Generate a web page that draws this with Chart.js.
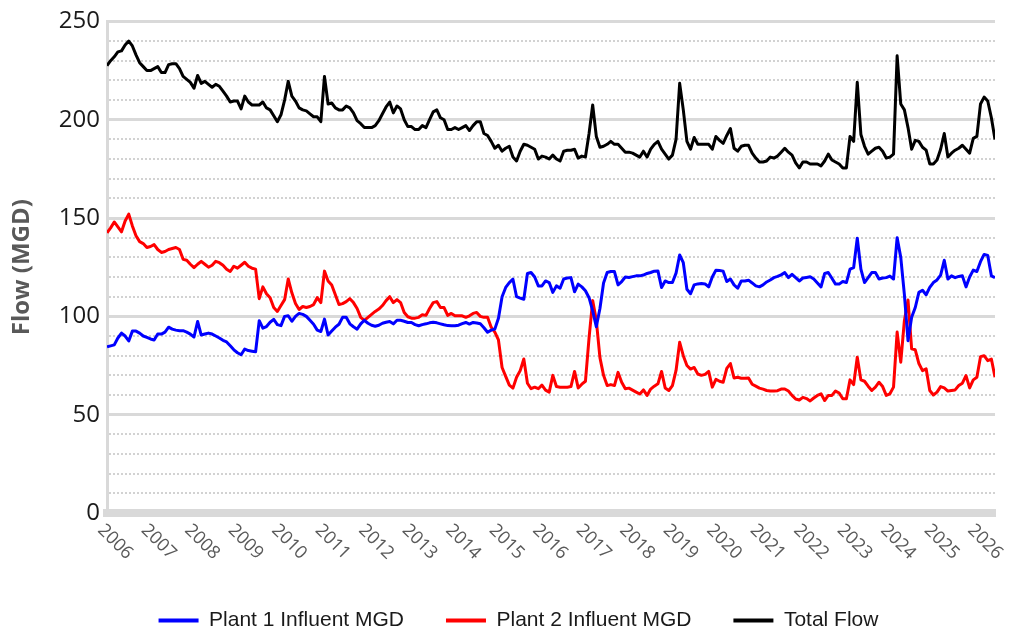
<!DOCTYPE html>
<html>
<head>
<meta charset="utf-8">
<script src="https://cdn.jsdelivr.net/npm/chart.js@4.4.0/dist/chart.umd.min.js"></script>
<style>
  html, body { margin: 0; padding: 0; background: #fff; }
  #wrap { width: 1013px; height: 635px; position: relative; }
</style>
</head>
<body>
<div id="wrap"><canvas id="flowChart"></canvas></div>
<script>
// monthly values, Jan 2006 onward (one row per year)
const startYear = 2006;
const yearTicks = [2006, 2007, 2008, 2009, 2010, 2011, 2012, 2013, 2014, 2015, 2016,
  2017, 2018, 2019, 2020, 2021, 2022, 2023, 2024, 2025, 2026];

const plant1 = [
  84.5, 85, 85.5, 89, 91.5, 90, 87.5, 92.5, 92.5, 91.5, 90, 89.3,
  88.5, 88, 91, 91, 92, 94.5, 93.5, 93, 92.7, 92.7, 92, 91,
  89.5, 97.4, 90.5, 91, 91.5, 91, 90, 89, 87.8, 87, 85, 83,
  81.5, 80.5, 83.4, 82.6, 82.3, 82, 97.8, 94, 94.8, 97, 98.5, 95.8,
  95.3, 100, 100.3, 97.5, 100, 101.5, 101, 100, 98, 96, 93, 92.3,
  98.6, 90.5, 92.5, 94.5, 96, 99.5, 99.5, 96.2, 94.7, 93.5, 96.2, 98,
  96.5, 95.5, 95, 95.5, 96.5, 97, 97.4, 96.2, 98, 98, 97.5, 96.9,
  96.9, 95.8, 95.2, 95.8, 96.2, 96.7, 97, 96.7, 96.2, 95.7, 95.3, 95.2,
  95.2, 95.5, 96.3, 96.9, 96.1, 96.9, 96.6, 96.2, 94.2, 91.9, 93, 93.5,
  99, 110, 114.7, 117.2, 118.9, 110, 109.3, 108.7, 121.8, 122.3, 120, 115.5,
  115.5, 118, 117.2, 112.2, 115.5, 114.3, 119, 119.5, 119.7, 112.5, 116.4, 115,
  113, 109.5, 102.8, 94.7, 104, 117, 122.3, 122.8, 122.8, 116, 117.7, 120,
  119.8, 120.2, 120.6, 120.6, 121, 121.8, 122.3, 123, 123.1, 114.7, 118, 117.2,
  117.2, 122, 131.2, 127.3, 113.8, 111.5, 116, 116.5, 116.7, 116.5, 115, 120,
  123.5, 123.3, 123, 117.7, 119, 116, 114.3, 118, 118, 118.4, 117, 115.5,
  115, 116, 117.5, 118.5, 119.7, 120.3, 121.1, 122.3, 119.7, 121.4, 119.7, 118,
  119.5, 119.8, 120.1, 119, 117, 115, 121.8, 122.3, 119.4, 116.4, 116.4, 117.7,
  117.2, 124, 124.8, 139.7, 124, 117.2, 119.7, 122.3, 122.3, 119, 119.5, 119.7,
  120.5, 119, 140, 130, 111, 87.6, 99.5, 104.5, 112.2, 113.3, 111, 114.7,
  117.2, 118.5, 121, 128.5, 119, 120.6, 119.7, 120.3, 120.6, 115, 120, 123.5,
  122.8, 127.8, 131.5, 131, 120.6, 119.7
];

const plant2 = [
  142.5, 145, 148, 145.5, 143, 148.5, 152, 146, 141, 138, 137, 135,
  135.5, 136.5, 134, 132.5, 133, 134, 134.5, 135, 134, 129, 128.5, 126.5,
  124.8, 126.5, 128, 126.5, 125, 126, 128, 127.3, 126, 124, 122.8, 125.5,
  124.5, 126, 127.5, 125.5, 124.5, 124, 109, 115, 111.5, 109.5, 104.5, 102.5,
  105.5, 108.5, 119, 112, 106.5, 103.5, 105, 104.5, 105, 106, 109.5, 107,
  123, 118, 116, 111, 106, 106.5, 107.5, 109, 107, 104, 99.5, 98,
  99.5, 101, 102.5, 103.7, 105.5, 108, 110, 107, 108.5, 107, 102, 99.8,
  99.1, 99.1, 99.5, 100.8, 100.5, 104, 107, 107.5, 104.5, 104.5, 100.5, 101.5,
  100.3, 100.3, 100.3, 99.5, 100.3, 101.5, 102, 100, 99.5, 99.5, 94.5, 92,
  88, 74, 69.5, 65, 63.5, 69, 72.4, 78.3, 66, 63.2, 64, 63.2,
  65, 62.5, 61.5, 70, 64.3, 64, 64, 64, 64.3, 72, 63.6, 65.5,
  67, 89, 108, 98, 79, 70, 64.8, 65.3, 64.8, 71.5, 66.5, 63.2,
  63.5, 62.5, 61.5, 60.5, 62.6, 59.8, 63, 64.5, 65.7, 72, 63.6, 62.3,
  64.8, 72.5, 86.8, 80, 75, 73.2, 74, 70.7, 70, 70.5, 72, 64,
  68, 67, 66.5, 73.5, 76, 68.7, 69, 68.5, 68.5, 68.7, 65.5, 64.5,
  63.5, 63, 62.3, 62, 62, 62.2, 63, 63.1, 62, 59.8, 58, 57.5,
  58.8, 58.2, 57, 58.5, 59.8, 60.6, 57.2, 59.8, 59.8, 62, 61, 58.1,
  58.1, 67.7, 65.3, 79.2, 67.7, 67, 64.5, 62.3, 64, 66.5, 64.3, 59.8,
  60.6, 64, 92, 76.7, 97.8, 108.3, 83.5, 83, 76, 72.4, 73.3, 62.3,
  60, 61.5, 64.3, 63.6, 62, 62.3, 62.6, 64.8, 66, 69.9, 63.6, 67.7,
  69, 79.5, 80, 77.5, 78.3, 69
];

const totalFlow = [
  227.5, 230, 232, 234.5, 235, 238, 240, 237.5, 233, 229, 227, 225,
  225, 226, 227, 224, 224, 228, 228.5, 228.5, 226, 222, 220.5, 219,
  216, 222.5, 218.5, 219.5, 218, 216.5, 218, 217, 214.5, 212, 209, 209.5,
  209.5, 205.5, 212, 209, 207.5, 207.5, 207.5, 209, 206, 205, 202, 199,
  202.5, 210, 219.5, 212, 209.5, 206, 205, 204.5, 203, 201.5, 201.5, 199,
  222, 208, 208.5, 206, 205, 205, 207, 206, 203.5, 199.5, 198, 196,
  196, 196, 197, 199.5, 203, 206.5, 209, 203.5, 207, 205.5, 200, 196.5,
  196.5, 195, 195, 197, 196, 200, 204, 205, 201, 200, 195, 195,
  196, 195, 196, 197, 194.5, 197, 199, 199, 193, 192, 189, 185.5,
  187, 184, 185.5, 186.5, 181, 179, 184, 187.5, 187, 186, 185, 180,
  181.5, 181, 180, 182, 180, 179, 184, 184.5, 184.5, 185, 180.5, 181.5,
  181, 193, 207.5, 191.5, 186, 186.5, 187.5, 189, 187.5, 187.5, 185.5, 183.5,
  183.5, 183, 182, 181, 184, 181, 185, 187.5, 189, 185, 182.5, 180,
  182, 190, 218.5, 205, 189, 185, 191, 187.5, 187.5, 187.5, 187.5, 185,
  191.5, 189.5, 188, 192, 195.5, 185.5, 184, 186.5, 187, 187, 183, 180.5,
  178.5, 178.5, 179, 181, 180.5, 181.5, 183.5, 185.5, 183.5, 182, 178, 175.5,
  178.5, 178.5, 177.5, 177.5, 177.5, 176.5, 179, 182.5, 179.5, 178.5, 177.5, 175.5,
  175.5, 191.5, 189, 219, 192.5, 186.5, 182.5, 184, 185.5, 186, 184, 180.5,
  181, 182.5, 232.5, 208, 205, 196, 185, 189.5, 189, 186, 184.5, 177.5,
  177.5, 179.5, 185, 193, 181, 183, 184.5, 185.5, 187, 185, 183, 190.5,
  191.5, 208, 211.5, 209.5, 201, 190
];

const monthX = totalFlow.map((v, i) => startYear + i / 12);
const toPoints = arr => arr.map((v, i) => ({ x: monthX[i], y: v }));

function lineSet(label, values, color) {
  return {
    label: label,
    data: toPoints(values),
    borderColor: color,
    backgroundColor: color,
    borderWidth: 3,
    borderJoinStyle: 'round',
    tension: 0,
    pointRadius: 0,
    pointHoverRadius: 0,
    pointStyle: 'line',
    pointBorderColor: color,
    pointBorderWidth: 4
  };
}

// year labels run down to the right from each tick
const yearLabels = {
  id: 'yearLabels',
  afterDraw(chart) {
    const xs = chart.scales.x;
    const ctx = chart.ctx;
    const base = chart.chartArea.bottom;
    ctx.save();
    ctx.font = '18px "Open Sans"';
    ctx.fillStyle = '#595959';
    ctx.textAlign = 'left';
    ctx.textBaseline = 'alphabetic';
    yearTicks.forEach(yr => {
      const px = xs.getPixelForValue(yr);
      ctx.save();
      ctx.translate(px - 10, base + 18);
      ctx.rotate(Math.PI / 4);
      ctx.fillText(String(yr), 0, 0);
      ctx.restore();
    });
    ctx.restore();
  }
};

new Chart(document.getElementById('flowChart'), {
  type: 'line',
  data: {
    datasets: [
      lineSet('Plant 1 Influent MGD', plant1, '#0000ff'),
      lineSet('Plant 2 Influent MGD', plant2, '#ff0000'),
      lineSet('Total Flow', totalFlow, '#000000')
    ]
  },
  options: {
    responsive: true,
    maintainAspectRatio: false,
    animation: false,
    events: [],
    layout: { padding: { left: 24, right: 0, top: 20, bottom: -6 } },
    plugins: {
      legend: {
        position: 'bottom',
        labels: {
          usePointStyle: true,
          pointStyleWidth: 40,
          padding: 42,
          color: '#1a1a1a',
          font: { family: '"Liberation Sans", Arial, sans-serif', size: 21 }
        }
      },
      tooltip: { enabled: false }
    },
    scales: {
      x: {
        type: 'linear',
        min: startYear,
        max: monthX[monthX.length - 1],
        ticks: { display: false },
        grid: { display: false, drawTicks: false },
        border: { display: true, color: '#d9d9d9', width: 8 },
        afterFit(scale) {
          scale.height = 55;
          scale.paddingRight = 18;
        }
      },
      y: {
        min: 0,
        max: 250,
        ticks: {
          stepSize: 10,
          autoSkip: false,
          padding: 7,
          color: '#1a1a1a',
          font: { family: '"Open Sans"', size: 24 },
          callback: v => (v % 50 === 0 ? v : '')
        },
        grid: {
          drawTicks: false,
          color: c => (c.tick && c.tick.value % 50 === 0 ? '#d9d9d9' : '#d2d2d2'),
          lineWidth: c => (c.tick && c.tick.value % 50 === 0 ? 3 : 2)
        },
        border: {
          color: '#d9d9d9',
          width: 3,
          dash: c => (c.tick && c.tick.value % 50 !== 0 ? [2, 2] : [])
        },
        title: {
          display: true,
          text: 'Flow (MGD)',
          color: '#595959',
          font: { family: '"Open Sans"', size: 24, weight: 'bold' },
          padding: { top: -16, bottom: 0 }
        },
        afterFit(scale) {
          scale.width = 83;
        }
      }
    }
  },
  plugins: [yearLabels]
});
</script>
</body>
</html>
